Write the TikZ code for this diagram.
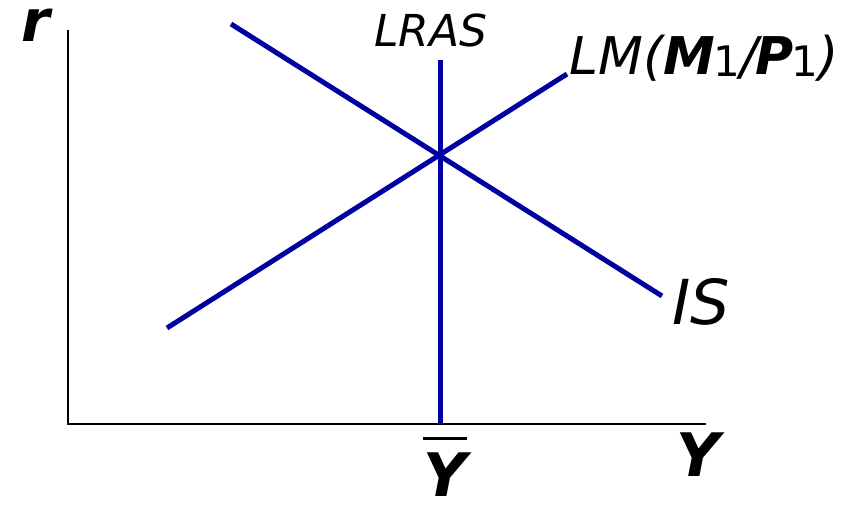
\documentclass[tikz,border=0pt]{standalone}
\usepackage{fontspec}
\setmainfont{DejaVu Sans}
\usepackage{xcolor}
\usetikzlibrary{positioning}
\definecolor{curveblue}{RGB}{0,0,160}

\begin{document}
\begin{tikzpicture}[x=0.5pt,y=-0.5pt,
    curve/.style={curveblue,line width=2.5pt},
    axis/.style={black,line width=1pt},
    lbl/.style={inner sep=0pt,font=\fontsize{29}{34}\selectfont\itshape}]
  \useasboundingbox (0,0) rectangle (856,506);
  % axes
  \coordinate (O) at (68,424);
  \coordinate (ytop) at (68,30);
  \coordinate (xend) at (706,424);
  \draw[axis] (ytop)--(O)--(xend);
  \node[lbl,font=\fontsize{29}{34}\selectfont\bfseries\itshape,anchor=base] (rlab) at (36,42){r};
  \node[lbl,font=\fontsize{30}{34}\selectfont\bfseries\itshape,anchor=base] (ylab) at (698,477){Y};
  % curves
  \coordinate (lrasTop) at (440,60);
  \coordinate (lrasBot) at (440,424);
  \coordinate (isA) at (231,24);
  \coordinate (isB) at (662,296);
  \coordinate (lmA) at (167,328);
  \coordinate (lmB) at (567,74);
  \draw[curve] (lrasBot)--(lrasTop);
  \draw[curve] (isA)--(isB);
  \draw[curve] (lmA)--(lmB);
  \node[lbl,font=\fontsize{22}{26}\selectfont\itshape,anchor=base] (lraslab) at (431,47){LRAS};
  \node[lbl,font=\fontsize{26}{30}\selectfont\itshape,anchor=base west] (lmlab) at (569,75)
    {LM({\bfseries M}\kern-1pt\raisebox{-1pt}{\textup{\fontsize{21}{24}\selectfont 1}}/\kern-1pt{\bfseries P}\kern-1pt\raisebox{-1pt}{\textup{\fontsize{21}{24}\selectfont 1}})};
  \node[lbl,font=\fontsize{31}{36}\selectfont\itshape,anchor=base west] (islab) at (672,325){IS};
  % natural output
  \node[lbl,font=\fontsize{30}{34}\selectfont\bfseries\itshape,anchor=base] (ybar) at (445,497){Y};
  \draw[line width=1.5pt] ([xshift=-22pt*0.5,yshift=7pt]ybar.north) -- ([xshift=22pt*0.5,yshift=7pt]ybar.north);
\end{tikzpicture}
\end{document}
